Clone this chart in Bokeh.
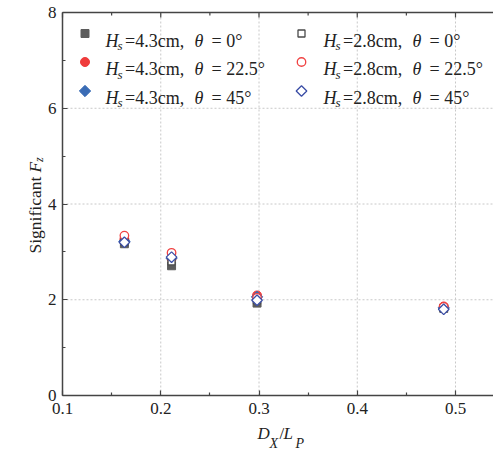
import math
from bokeh.plotting import figure
from bokeh.models import Range1d, FixedTicker, LinearAxis, Label
from bokeh.embed import file_html
from bokeh.resources import INLINE

# ---------------- data ----------------
dx_lp = [0.163, 0.211, 0.298, 0.488]
fz_hs43_t0 = [3.17, 2.71, 1.93, 1.82]
fz_hs43_t225 = [3.26, 2.86, 2.09, 1.86]
fz_hs43_t45 = [3.22, 2.87, 2.06, 1.83]
fz_hs28_t0 = [3.21, 2.80, 1.98, 1.82]
fz_hs28_t225 = [3.34, 2.98, 2.04, 1.85]
fz_hs28_t45 = [3.20, 2.89, 1.99, 1.80]

x_ticks = [0.1, 0.2, 0.3, 0.4, 0.5]
x_minor = [0.15, 0.25, 0.35, 0.45, 0.55]
y_ticks = [0, 2, 4, 6, 8]
y_minor = [1, 3, 5, 7]

hs_labels = ["4.3", "2.8"]
theta_labels = ["0", "22.5", "45"]

# ---------------- layout ----------------
W, H = 493, 459
FL, FT, FB = 62, 12, 395          # pixel position of x=0.1, y=8, y=0
SX = 0.4 / 393.0                  # data units per pixel (x)
SY = 8.0 / (FB - FT)              # data units per pixel (y)
X0, Y0, Y1 = 0.1, 0, 8
XMIN = X0 - FL * SX
XMAX = XMIN + W * SX
YMAX = Y1 + FT * SY
YMIN = YMAX - H * SY

SERIF = "Liberation Serif"
axis_col = "#444444"

p = figure(width=W, height=H, output_backend="svg", toolbar_location=None,
           x_range=Range1d(XMIN, XMAX), y_range=Range1d(YMIN, YMAX),
           x_axis_type=None, y_axis_type=None, min_border=0)
p.outline_line_color = None
p.background_fill_color = "white"
p.border_fill_color = "white"


def style_axis(ax):
    ax.major_tick_in = 5
    ax.major_tick_out = 0
    ax.minor_tick_in = 3
    ax.minor_tick_out = 0
    ax.axis_line_color = axis_col
    ax.axis_line_width = 1.5
    ax.major_tick_line_color = axis_col
    ax.minor_tick_line_color = axis_col
    ax.major_tick_line_width = 1.2
    ax.minor_tick_line_width = 1.2
    ax.major_label_text_font = SERIF
    ax.major_label_text_font_size = "17px"
    ax.major_label_text_color = "#222222"
    ax.axis_label = None


xax = LinearAxis(fixed_location=Y0, bounds=(X0, XMAX),
                 ticker=FixedTicker(ticks=x_ticks, minor_ticks=x_minor))
style_axis(xax)
xax.major_label_standoff = 7
p.add_layout(xax, "below")

yax = LinearAxis(fixed_location=X0, bounds=(Y0, Y1),
                 ticker=FixedTicker(ticks=y_ticks, minor_ticks=y_minor))
style_axis(yax)
yax.major_label_standoff = 6
p.add_layout(yax, "left")

# grid lines (dotted) limited to the data area
grid_kw = dict(line_color="#c8c8c8", line_dash="2 2", line_width=1)
gx = x_ticks[1:]
p.segment(x0=gx, y0=[Y0] * len(gx), x1=gx, y1=[Y1] * len(gx), **grid_kw)
gy = y_ticks[1:-1]
p.segment(x0=[X0] * len(gy), y0=gy, x1=[XMAX] * len(gy), y1=gy, **grid_kw)

# top frame line with inward ticks
p.segment(x0=[X0], y0=[Y1], x1=[XMAX], y1=[Y1], line_color=axis_col, line_width=1.5)
p.segment(x0=x_ticks, y0=[Y1] * len(x_ticks), x1=x_ticks, y1=[Y1 - 5 * SY] * len(x_ticks),
          line_color=axis_col, line_width=1.2)
p.segment(x0=x_minor, y0=[Y1] * len(x_minor), x1=x_minor, y1=[Y1 - 3 * SY] * len(x_minor),
          line_color=axis_col, line_width=1.2)

# ---------------- series ----------------
c_grey = "#5c5c5c"
c_red = "#ef3b3b"
c_blue = "#3a6cb5"
c_osq = "#4a4a4a"
c_ored = "#f04444"
c_oblue = "#3c4fa6"

styles = [
    dict(marker="square", size=8, angle=0, fill_color=c_grey, line_color=c_grey, line_width=1),
    dict(marker="circle", size=9, angle=0, fill_color=c_red, line_color=c_red, line_width=1),
    dict(marker="square", size=8, angle=math.pi / 4, fill_color=c_blue, line_color=c_blue, line_width=1),
    dict(marker="square", size=7, angle=0, fill_color="white", line_color=c_osq, line_width=1.3),
    dict(marker="circle", size=8.5, angle=0, fill_color="white", line_color=c_ored, line_width=1.3),
    dict(marker="square", size=7.5, angle=math.pi / 4, fill_color="white", line_color=c_oblue, line_width=1.3),
]
series = [fz_hs43_t0, fz_hs43_t225, fz_hs43_t45, fz_hs28_t0, fz_hs28_t225, fz_hs28_t45]

for ys, st in zip(series, styles):
    p.scatter(x=dx_lp, y=ys, **st)


# ---------------- helpers for text ----------------
def px2x(px):
    return XMIN + px * SX


def px2y(py):
    return YMAX - py * SY


def lab(text, X, Y, size, italic=False, angle=0.0):
    p.add_layout(Label(x=X, y=H - Y, x_units="screen", y_units="screen",
                       text=text, text_font=SERIF, text_font_size=f"{size}px",
                       text_font_style="italic" if italic else "normal",
                       text_color="#222222", text_baseline="alphabetic",
                       text_align="left", angle=angle))


# ---------------- legend ----------------
row_base = [40, 68.5, 97]
row_mark = [33, 61.5, 90.5]
col_mark = [84.5, 301]
col_text = [105, 323]
LF = 18
for ci, hs in enumerate(hs_labels):
    for ri, th in enumerate(theta_labels):
        st = dict(styles[ci * 3 + ri])
        p.scatter(x=[px2x(col_mark[ci])], y=[px2y(row_mark[ri])], **st)
        x0 = col_text[ci]
        yb = row_base[ri]
        lab("H", x0, yb, LF, italic=True)
        lab("s", x0 + 12, yb + 5, 13, italic=True)
        lab(f"={hs}cm,", x0 + 19.5, yb, LF)
        lab("\u03b8", x0 + 89, yb, LF, italic=True)
        lab(f"= {th}\u00b0", x0 + 106, yb, LF)

# ---------------- axis titles ----------------
lab("D", 257, 432.5, 17, italic=True)
lab("X", 269, 443, 14, italic=True)
lab("/", 279, 432.5, 17)
lab("L", 283, 432.5, 17, italic=True)
lab("P", 295, 443, 14, italic=True)

ya = math.pi / 2
lab("Significant ", 34, 253, 17.5, angle=ya)
lab("F", 34, 253 - 81, 17.5, italic=True, angle=ya)
lab("z", 38, 253 - 81 - 10.5, 12, italic=True, angle=ya)

open("out.html", "w").write(file_html(p, INLINE))
